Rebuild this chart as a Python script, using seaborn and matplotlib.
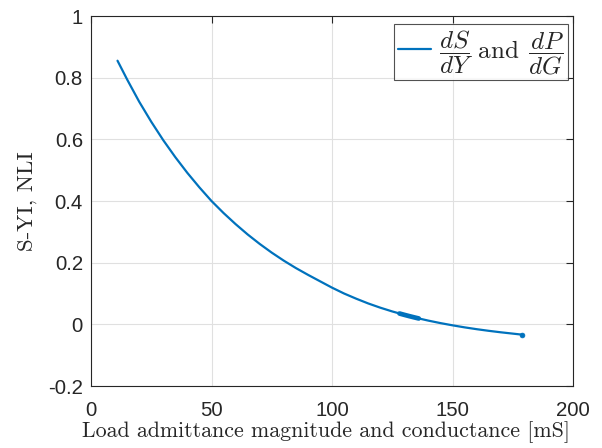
import numpy as np
import pandas as pd
import matplotlib
matplotlib.use("Agg")
import matplotlib.pyplot as plt
import seaborn as sns
from matplotlib.ticker import FuncFormatter

# Data
load_mS = [11, 15, 20, 25, 30, 35, 40, 45, 50, 55, 60, 65, 70, 75, 80, 85, 90, 95,
           100, 105, 110, 115, 120, 125, 130, 135, 140, 145, 150, 155, 160, 165,
           170, 175, 178.9]
index_val = [0.855, 0.794, 0.722, 0.657, 0.597, 0.542, 0.491, 0.444, 0.400, 0.361,
             0.325, 0.2915, 0.2608, 0.2325, 0.2065, 0.1826, 0.1607, 0.1398,
             0.1190, 0.1000, 0.0833, 0.0678, 0.0541, 0.0418, 0.0308, 0.0209,
             0.0120, 0.0040, -0.0032, -0.0098, -0.0157, -0.0210, -0.0258,
             -0.0301, -0.0335]
# dense cluster of points around 128-136 mS and the final point
cluster_x = [128, 130, 132, 134, 136]
cluster_y = [0.0351, 0.0308, 0.0267, 0.0228, 0.0190]
end_x = [178.9]
end_y = [-0.0335]

xticks = [0, 50, 100, 150, 200]
yticks = [-0.2, 0, 0.2, 0.4, 0.6, 0.8, 1]

sns.set_style("white")
plt.rcParams["axes.unicode_minus"] = False
plt.rcParams["mathtext.fontset"] = "cm"
plt.rcParams["font.family"] = ["Liberation Sans", "DejaVu Sans"]

df = pd.DataFrame({"x": load_mS, "y": index_val})
dfc = pd.DataFrame({"x": cluster_x, "y": cluster_y})
dfe = pd.DataFrame({"x": end_x, "y": end_y})

fig = plt.figure(figsize=(6.02, 4.48), dpi=100)
ax = fig.add_axes([91 / 602, 1 - 386 / 448, 482 / 602, 370 / 448])

blue = "#0072BD"
sns.lineplot(data=df, x="x", y="y", ax=ax, color=blue, linewidth=1.6,
             label=r"$\dfrac{dS}{dY}\ \mathrm{and}\ \,\dfrac{dP}{dG}$")
sns.lineplot(data=dfc, x="x", y="y", ax=ax, color=blue, linewidth=3.4,
             legend=False, zorder=3)
sns.scatterplot(data=dfe, x="x", y="y", ax=ax, color=blue, s=12, marker="o",
                edgecolor=blue, linewidth=0.5, legend=False, zorder=3)

ax.set_xlim(0, 200)
ax.set_ylim(-0.2, 1)
ax.set_xticks(xticks)
ax.set_yticks(yticks)
ax.yaxis.set_major_formatter(FuncFormatter(lambda v, p: "%g" % round(v, 2)))
ax.tick_params(direction="in", length=5, width=0.8, labelsize=14.7, colors="#262626",
               top=True, right=True)
ax.tick_params(axis="x", pad=11)
ax.tick_params(axis="y", pad=5.8)
ax.grid(True, color="#e0e0e0", linewidth=0.8)
for s in ax.spines.values():
    s.set_color("#262626")
    s.set_linewidth(0.8)

ax.set_xlabel("Load admittance magnitude and conductance [mS]", fontsize=15.8,
              fontfamily="cmr10")
ax.xaxis.set_label_coords((326.5 - 91) / 482, (386 - 421) / 370)
ax.set_ylabel("S-YI, NLI", fontsize=16.5, fontfamily="cmr10")
ax.yaxis.set_label_coords((37 - 91) / 482, 0.5)

leg = ax.legend(loc="upper right", bbox_to_anchor=((568 - 91) / 482, (386 - 24) / 370),
                borderaxespad=0, fontsize=18, frameon=True, fancybox=False,
                edgecolor="#262626", handlelength=1.32, borderpad=0.15,
                handletextpad=0.3)
leg.get_frame().set_linewidth(0.8)

fig.savefig("out.png", dpi=100)
